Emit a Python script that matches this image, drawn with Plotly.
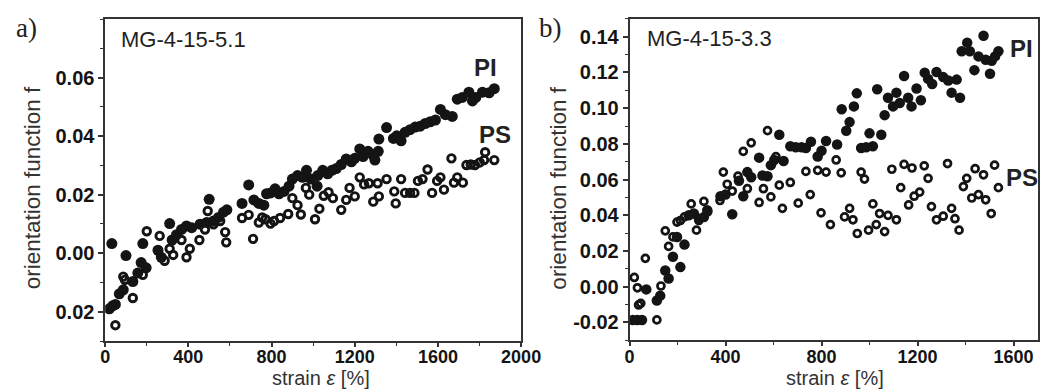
import plotly.graph_objects as go

# ---------------- data ----------------
# panel a) MG-4-15-5.1
a_pi_x = [20, 36, 49, 32, 68, 87, 100, 133, 157, 173, 181, 197, 254, 270, 310, 322, 343, 367, 391, 416,
          456, 488, 500, 521, 545, 569, 585, 658, 690, 715, 739, 763, 776, 795, 817, 836, 860, 884, 900,
          925, 949, 968, 989, 1019, 1022, 1046, 1070, 1090, 1111, 1135, 1159, 1184, 1200, 1224, 1240,
          1264, 1289, 1297, 1313, 1316, 1353, 1386, 1402, 1423, 1442, 1466, 1491, 1515, 1539, 1563,
          1588, 1612, 1636, 1669, 1693, 1717, 1749, 1766, 1782, 1814, 1846, 1871]
a_pi_y = [-0.0190, -0.0180, -0.0175, 0.0033, -0.0139, -0.0125, -0.0008, -0.0097, -0.0068, -0.0032,
          0.0033, -0.0050, 0.0010, -0.0014, 0.0101, 0.0045, 0.0063, 0.0081, 0.0093, 0.0087,
          0.0099, 0.0105, 0.0184, 0.0110, 0.0122, 0.0140, 0.0148, 0.0170, 0.0233, 0.0182,
          0.0170, 0.0164, 0.0203, 0.0206, 0.0220, 0.0203, 0.0211, 0.0229, 0.0253, 0.0265,
          0.0259, 0.0283, 0.0253, 0.0229, 0.0265, 0.0283, 0.0271, 0.0283, 0.0289, 0.0303,
          0.0322, 0.0312, 0.0324, 0.0356, 0.0330, 0.0348, 0.0334, 0.0318, 0.0348, 0.0390,
          0.0429, 0.0392, 0.0401, 0.0384, 0.0413, 0.0422, 0.0431, 0.0434, 0.0443, 0.0449,
          0.0455, 0.0491, 0.0473, 0.0467, 0.0526, 0.0532, 0.0550, 0.0520, 0.0532, 0.0550,
          0.0548, 0.0562]
a_ps_x = [49, 87, 95, 133, 181, 200, 262, 286, 310, 327, 367, 391, 407, 453, 480, 493, 521, 553, 577,
          582, 658, 690, 711, 739, 755, 771, 795, 812, 841, 880, 900, 925, 941, 965, 981, 1009, 1030,
          1051, 1074, 1095, 1135, 1159, 1175, 1200, 1224, 1245, 1268, 1289, 1310, 1316, 1353, 1390,
          1397, 1423, 1442, 1466, 1487, 1504, 1526, 1550, 1572, 1596, 1612, 1629, 1665, 1677, 1693,
          1720, 1737, 1758, 1778, 1801, 1822, 1827, 1871]
a_ps_y = [-0.0246, -0.0080, -0.0091, -0.0153, -0.0074, 0.0075, 0.0059, -0.0026, 0.0015, -0.0006,
          0.0045, -0.0014, 0.0015, 0.0045, 0.0081, 0.0144, 0.0099, 0.0110, 0.0072, 0.0037,
          0.0120, 0.0131, 0.0049, 0.0105, 0.0122, 0.0116, 0.0101, 0.0110, 0.0120, 0.0134,
          0.0188, 0.0164, 0.0132, 0.0223, 0.0200, 0.0116, 0.0152, 0.0196, 0.0208, 0.0188,
          0.0148, 0.0182, 0.0223, 0.0194, 0.0259, 0.0235, 0.0239, 0.0176, 0.0239, 0.0194,
          0.0253, 0.0211, 0.0170, 0.0253, 0.0206, 0.0206, 0.0206, 0.0247, 0.0253, 0.0286,
          0.0206, 0.0247, 0.0259, 0.0217, 0.0324, 0.0241, 0.0259, 0.0241, 0.0301, 0.0303,
          0.0301, 0.0310, 0.0318, 0.0345, 0.0318]

# panel b) MG-4-15-3.3
b_pi_x = [14, 33, 52, 70, 114, 128, 149, 163, 181, 198, 212, 229, 247, 268, 289, 310, 324, 379, 400,
          428, 456, 474, 491, 507, 540, 554, 575, 589, 603, 624, 642, 670, 693, 717, 735, 756, 784,
          800, 819, 865, 884, 903, 917, 935, 947, 965, 986, 1000, 1014, 1032, 1049, 1063, 1077, 1098,
          1112, 1126, 1144, 1161, 1175, 1196, 1214, 1230, 1244, 1261, 1279, 1307, 1328, 1342, 1363,
          1377, 1384, 1407, 1418, 1437, 1454, 1475, 1484, 1502, 1509, 1523, 1537]
b_pi_y = [-0.0186, -0.0186, -0.0186, -0.0015, -0.0077, -0.0050, 0.0091, 0.0046, 0.0168, 0.0279,
          0.0110, 0.0236, 0.0400, 0.0410, 0.0381, 0.0390, 0.0429, 0.0507, 0.0516, 0.0406,
          0.0594, 0.0507, 0.0642, 0.0613, 0.0723, 0.0623, 0.0619, 0.0681, 0.0710, 0.0851,
          0.0704, 0.0787, 0.0781, 0.0781, 0.0777, 0.0812, 0.0729, 0.0762, 0.0816, 0.0797,
          0.0994, 0.0874, 0.0922, 0.1010, 0.1083, 0.0777, 0.0781, 0.0859, 0.0787, 0.1106,
          0.0851, 0.0961, 0.1058, 0.1010, 0.1087, 0.1029, 0.1180, 0.1058, 0.1010, 0.1110,
          0.1044, 0.1199, 0.1164, 0.1135, 0.1203, 0.1174, 0.1155, 0.1087, 0.1160, 0.1058,
          0.1319, 0.1367, 0.1319, 0.1213, 0.1290, 0.1406, 0.1271, 0.1193, 0.1265, 0.1290,
          0.1319]
b_ps_x = [20, 33, 47, 38, 66, 114, 131, 149, 163, 181, 198, 212, 229, 257, 279, 289, 310, 326, 377,
          391, 407, 428, 452, 474, 491, 507, 540, 558, 575, 589, 610, 624, 637, 670, 703, 735, 753,
          784, 798, 819, 837, 861, 882, 896, 917, 931, 949, 965, 979, 996, 1014, 1028, 1042, 1063,
          1077, 1093, 1112, 1130, 1144, 1163, 1177, 1186, 1209, 1228, 1244, 1258, 1279, 1307, 1325,
          1342, 1356, 1373, 1391, 1405, 1426, 1440, 1454, 1475, 1484, 1507, 1521, 1537]
b_ps_y = [0.0052, -0.0006, -0.0093, -0.0102, 0.0159, -0.0186, 0.0004, 0.0313, 0.0226, 0.0279,
          0.0362, 0.0371, 0.0391, 0.0464, 0.0317, 0.0371, 0.0478, 0.0420, 0.0483, 0.0642,
          0.0574, 0.0536, 0.0619, 0.0758, 0.0549, 0.0806, 0.0472, 0.0549, 0.0874, 0.0503,
          0.0729, 0.0569, 0.0439, 0.0584, 0.0468, 0.0646, 0.0516, 0.0652, 0.0414, 0.0642,
          0.0348, 0.0710, 0.0638, 0.0391, 0.0439, 0.0375, 0.0298, 0.0642, 0.0603, 0.0317,
          0.0464, 0.0348, 0.0410, 0.0309, 0.0400, 0.0658, 0.0375, 0.0555, 0.0685, 0.0458,
          0.0665, 0.0507, 0.0530, 0.0677, 0.0607, 0.0449, 0.0375, 0.0395, 0.0690, 0.0439,
          0.0381, 0.0317, 0.0561, 0.0607, 0.0497, 0.0661, 0.0516, 0.0627, 0.0487, 0.0410,
          0.0681, 0.0555]

# ticks
a_xticks = [0, 400, 800, 1200, 1600, 2000]
a_yticks = [-0.02, 0.0, 0.02, 0.04, 0.06]
a_yticktext = ["0.02", "0.00", "0.02", "0.04", "0.06"]
b_xticks = [0, 400, 800, 1200, 1600]
b_yticks = [-0.02, 0.0, 0.02, 0.04, 0.06, 0.08, 0.10, 0.12, 0.14]
b_yticktext = ["-0.02", "0.00", "0.02", "0.04", "0.06", "0.08", "0.10", "0.12", "0.14"]

# ---------------- figure ----------------
W, H = 1059, 390
INK = "#141414"
AX = "#333333"
SANS = "Liberation Sans, Arial, sans-serif"
SERIF = "Liberation Serif, Times New Roman, serif"

fig = go.Figure()

fig.add_trace(go.Scatter(x=a_pi_x, y=a_pi_y, mode="markers", name="PI",
                         marker=dict(symbol="circle", size=11, color=INK, line=dict(width=0)),
                         xaxis="x", yaxis="y"))
fig.add_trace(go.Scatter(x=a_ps_x, y=a_ps_y, mode="markers", name="PS",
                         marker=dict(symbol="circle-open", size=7.5, color=INK, line=dict(width=2.9, color=INK)),
                         xaxis="x", yaxis="y"))
fig.add_trace(go.Scatter(x=b_pi_x, y=b_pi_y, mode="markers", name="PI",
                         marker=dict(symbol="circle", size=10.5, color=INK, line=dict(width=0)),
                         xaxis="x2", yaxis="y2"))
fig.add_trace(go.Scatter(x=b_ps_x, y=b_ps_y, mode="markers", name="PS",
                         marker=dict(symbol="circle-open", size=7, color=INK, line=dict(width=2.7, color=INK)),
                         xaxis="x2", yaxis="y2"))

ytickfont = dict(family=SANS, size=20, color="#141414", weight="bold")
xtickfont = dict(family=SANS, size=18, color="#141414", weight="bold")
common = dict(showline=True, mirror=True, linecolor=AX, linewidth=1.5,
              ticks="outside", tickwidth=1.5, tickcolor=AX,
              showgrid=False, zeroline=False, tickmode="array")
xminor = dict(dtick=200, tick0=0, ticklen=3, tickwidth=1.2, tickcolor=AX, ticks="outside")
yminor = dict(dtick=0.01, tick0=0, ticklen=3, tickwidth=1.2, tickcolor=AX, ticks="outside")

fig.update_layout(
    width=W, height=H,
    margin=dict(l=0, r=0, t=0, b=0),
    paper_bgcolor="white", plot_bgcolor="white",
    showlegend=False,
    xaxis=dict(domain=[102.6 / W, 528.6 / W], range=[0, 2000], anchor="y",
               tickvals=a_xticks, ticktext=[str(v) for v in a_xticks], ticklen=4,
               tickfont=xtickfont, ticklabelstandoff=-5, minor=xminor, **common),
    yaxis=dict(domain=[(H - 341) / H, (H - 19) / H], range=[-0.03, 0.08], anchor="x",
               tickvals=a_yticks, ticktext=a_yticktext, ticklen=5,
               tickfont=ytickfont, minor=yminor, **common),
    xaxis2=dict(domain=[639.6 / W, 1057.5 / W], range=[0, 1700], anchor="y2",
                tickvals=b_xticks, ticktext=[str(v) for v in b_xticks], ticklen=4,
                tickfont=xtickfont, ticklabelstandoff=-5, minor=xminor, **common),
    yaxis2=dict(domain=[(H - 340.3) / H, (H - 18.9) / H], range=[-0.03, 0.15], anchor="x2",
                tickvals=b_yticks, ticktext=b_yticktext, ticklen=5,
                tickfont=ytickfont, minor=yminor, **common),
)

def ann(text, px, py, size, family=SANS, weight="normal", angle=0, xanchor="center", color="#222222"):
    fig.add_annotation(text=text, x=px / W, y=1 - py / H, xref="paper", yref="paper",
                       showarrow=False, textangle=angle, xanchor=xanchor, yanchor="middle",
                       font=dict(family=family, size=size, color=color, weight=weight))

# panel letters
ann("a)", 22, 28, 27, family=SERIF)
ann("b)", 559, 28, 27, family=SERIF)
# sample names
ann("MG-4-15-5.1", 117, 40, 22, xanchor="left")
ann("MG-4-15-3.3", 655, 39, 22, xanchor="left")
# series labels
ann("PI", 492, 67, 24, weight="bold")
ann("PS", 502, 134, 24, weight="bold")
ann("PI", 1041, 48, 24, weight="bold")
ann("PS", 1042, 178, 24, weight="bold")
# axis titles
ann("orientation function f", 28, 188, 22.5, angle=-90, color="#333333")
ann("orientation function f", 566, 188, 22.5, angle=-90, color="#333333")
ann("strain <i>ε</i> [%]", 324, 378, 20, color="#333333")
ann("strain <i>ε</i> [%]", 850, 378, 20, color="#333333")

fig.write_html("out.html")
